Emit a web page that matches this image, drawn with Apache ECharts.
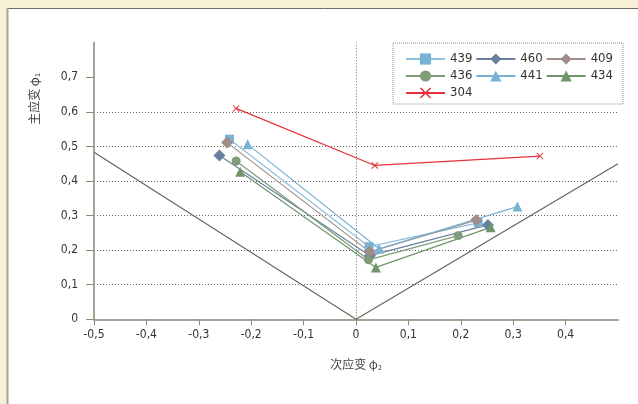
<!DOCTYPE html>
<html>
<head>
<meta charset="utf-8">
<script src="https://cdn.jsdelivr.net/npm/echarts@6/dist/echarts.min.js"></script>
<style>
html,body{margin:0;padding:0;background:#f7f0d6;}
#c{width:638px;height:404px;}
</style>
</head>
<body>
<div id="c"></div>
<script>
// ---- data ----
var seriesNames = ['439', '460', '409', '436', '441', '434', '304'];
var s439 = [[-0.2415, 0.521], [0.025, 0.210], [0.233, 0.279]];
var s460 = [[-0.2606, 0.474], [0.0265, 0.184], [0.2518, 0.273]];
var s409 = [[-0.246, 0.511], [0.026, 0.195], [0.2295, 0.287]];
var s436 = [[-0.2288, 0.458], [0.0238, 0.172], [0.195, 0.242]];
var s441 = [[-0.2067, 0.506], [0.044, 0.204], [0.308, 0.326]];
var s434 = [[-0.221, 0.427], [0.038, 0.150], [0.257, 0.266]];
var s304 = [[-0.2288, 0.610], [0.036, 0.445], [0.351, 0.472]];
var limitLine = [[-0.5, 0.483], [0, 0], [0.5, 0.45]];
var xTicks = [-0.5, -0.4, -0.3, -0.2, -0.1, 0, 0.1, 0.2, 0.3, 0.4];
var yTicks = [0, 0.1, 0.2, 0.3, 0.4, 0.5, 0.6, 0.7];

var FONT = "'Liberation Sans Narrow','DejaVu Sans Condensed',sans-serif";
function fmt(v) {
  if (Math.abs(v) < 1e-9) return '0';
  return v.toFixed(1).replace('.', ',');
}
var crossPath = 'path://M0,1 L1,0 L5,4 L9,0 L10,1 L6,5 L10,9 L9,10 L5,6 L1,10 L0,9 L4,5 Z';

function mk(name, data, color, lineColor, symbol, size) {
  return {
    name: name, type: 'line', data: data, symbol: symbol, symbolSize: size,
    itemStyle: {color: color},
    lineStyle: {color: lineColor, width: 1.2},
    emphasis: {disabled: true}, animation: false, z: 3
  };
}

var chart = echarts.init(document.getElementById('c'), null, {renderer: 'canvas'});
chart.setOption({
  animation: false,
  graphic: [
    {type: 'rect', z: -10, silent: true, shape: {x: 8, y: 8, width: 640, height: 410}, style: {fill: '#ffffff'}},
    {type: 'line', z: -9, silent: true, shape: {x1: 8, y1: 8.5, x2: 640, y2: 8.5}, style: {stroke: '#6e6e62', lineWidth: 1}},
    {type: 'line', z: -9, silent: true, shape: {x1: 7.5, y1: 8, x2: 7.5, y2: 410}, style: {stroke: '#a3a298', lineWidth: 2}},
    {type: 'text', silent: true, x: 34, y: 99, rotation: Math.PI / 2, style: {
      text: '{a|主应变 φ}{s|1}', align: 'center', verticalAlign: 'middle',
      rich: {
        a: {fontFamily: "'Noto Sans CJK SC',sans-serif", fontSize: 12, fill: '#444'},
        s: {fontFamily: "'Noto Sans CJK SC',sans-serif", fontSize: 7, fill: '#444', padding: [6, 0, 0, 0]}
      }
    }}
  ],
  grid: {left: 94, right: 20, top: 42.7, bottom: 84.7, containLabel: false},
  legend: {
    data: seriesNames,
    left: 393, top: 43,
    width: 229,
    orient: 'horizontal',
    padding: [9, 10, 4, 12],
    itemGap: 3,
    itemWidth: 39, itemHeight: 14,
    borderColor: '#888', borderWidth: 1, borderType: 'dotted',
    textStyle: {fontFamily: FONT, fontSize: 13, color: '#333', width: 22, lineHeight: 14}
  },
  xAxis: {
    type: 'value', min: -0.5, max: 0.5, interval: 0.1,
    name: '{a|次应变 φ}{s|2}', nameLocation: 'middle', nameGap: 39,
    nameTextStyle: {
      rich: {
        a: {fontFamily: "'Noto Sans CJK SC',sans-serif", fontSize: 12, color: '#444'},
        s: {fontFamily: "'Noto Sans CJK SC',sans-serif", fontSize: 7, color: '#444', padding: [6, 0, 0, 0]}
      }
    },
    axisLine: {onZero: false, lineStyle: {color: '#a3a295', width: 2}},
    axisTick: {show: true, length: 6, customValues: xTicks, lineStyle: {color: '#8a897c', width: 1}},
    axisLabel: {customValues: xTicks, formatter: fmt, margin: 10, fontFamily: FONT, fontSize: 12, color: '#333'},
    splitLine: {show: false}
  },
  yAxis: {
    type: 'value', min: 0, max: 0.8, interval: 0.1,
    axisLine: {show: true, onZero: false, lineStyle: {color: '#a3a295', width: 2}},
    axisTick: {show: true, length: 8, customValues: yTicks, lineStyle: {color: '#8a897c', width: 1}},
    axisLabel: {customValues: yTicks, formatter: fmt, margin: 16, fontFamily: FONT, fontSize: 12, color: '#333'},
    splitLine: {show: true, showMinLine: false, showMaxLine: false, lineStyle: {color: '#666', type: [1, 2], width: 1}}
  },
  series: [
    {
      name: 'limit', type: 'line', data: limitLine, symbol: 'none',
      lineStyle: {color: '#66665a', width: 1.2}, z: 2, silent: true,
      markLine: {
        silent: true, symbol: 'none', label: {show: false},
        lineStyle: {color: '#666', type: [1, 2], width: 1},
        data: [{xAxis: 0}]
      }
    },
    mk('439', s439, '#79b2d2', '#8cc0dc', 'rect', 9),
    mk('460', s460, '#6b7fa0', '#6b7fa0', 'diamond', 12),
    mk('409', s409, '#a08d86', '#a08d86', 'diamond', 12),
    mk('436', s436, '#7e9c78', '#7e9c78', 'circle', 9),
    mk('441', s441, '#79b2d2', '#79b2d2', 'triangle', 10),
    mk('434', s434, '#70956a', '#70956a', 'triangle', 10),
    mk('304', s304, '#e8303c', '#e8303c', crossPath, 7)
  ]
});
</script>
</body>
</html>
